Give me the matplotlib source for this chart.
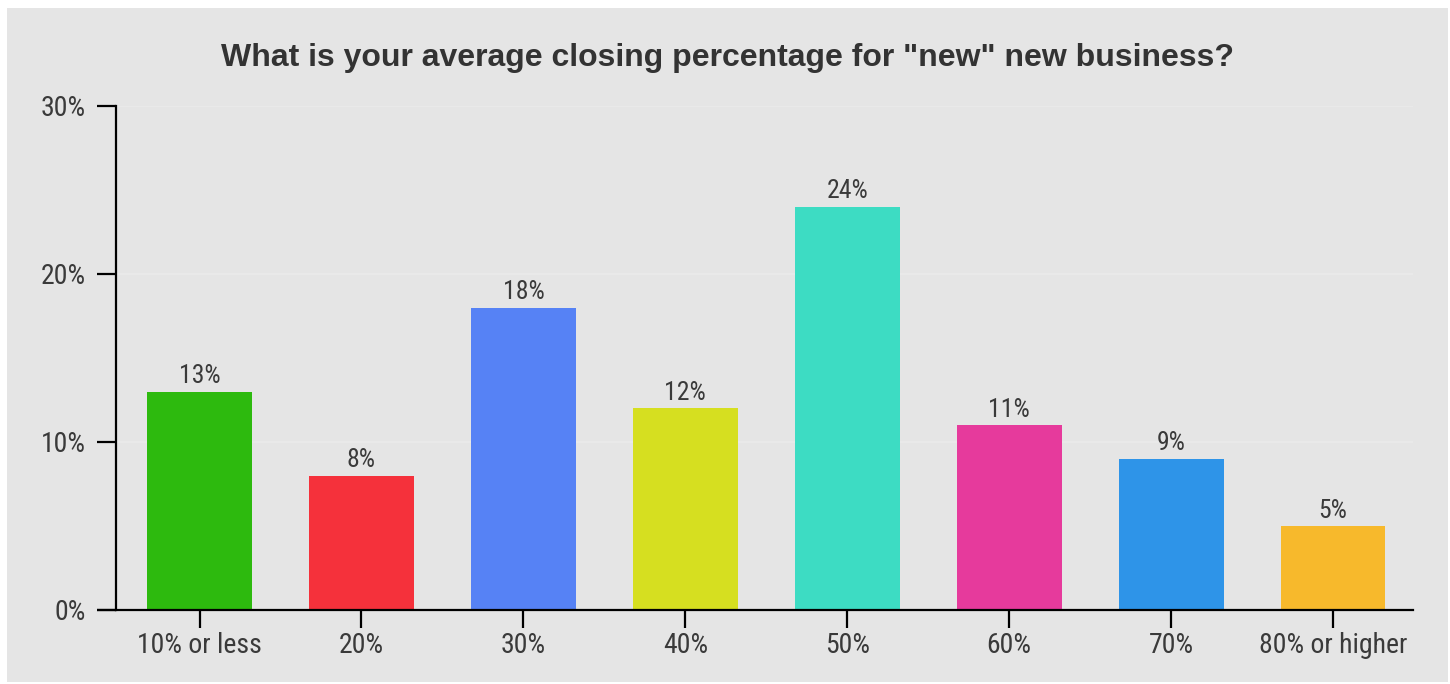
import matplotlib
matplotlib.use("Agg")
import matplotlib.pyplot as plt
from matplotlib.patches import Rectangle
from matplotlib.ticker import FuncFormatter, FixedLocator

categories = ["10% or less", "20%", "30%", "40%", "50%", "60%", "70%", "80% or higher"]
values = [13, 8, 18, 12, 24, 11, 9, 5]
colors = ["#2dba0e", "#f5313b", "#5682f5", "#d6df20", "#3ddcc3", "#e63a9c", "#2e94e8", "#f7b92c"]
y_ticks = [0, 10, 20, 30]
title = 'What is your average closing percentage for "new" new business?'

label_font = ["Roboto Condensed", "Liberation Sans Narrow", "Roboto", "DejaVu Sans"]
title_font = ["Liberation Sans", "Arial", "DejaVu Sans"]

W, H = 1450, 684
fig = plt.figure(figsize=(W / 100, H / 100), dpi=100, facecolor="white")

# grey panel behind the chart
fig.patches.append(Rectangle((7 / W, 1 - 682 / H), (1448 - 7) / W, (682 - 8) / H,
                             transform=fig.transFigure, facecolor="#e5e5e5",
                             edgecolor="none", zorder=-5))

ax = fig.add_axes([116 / W, 1 - 610 / H, (1413 - 116) / W, (610 - 106) / H])
ax.set_facecolor("none")
ax.set_zorder(2)

x = list(range(len(categories)))
bars = ax.bar(x, values, width=0.648, color=colors, edgecolor="none", zorder=3)

for xi, v in zip(x, values):
    ax.annotate(f"{v}%", (xi, v), xytext=(0, 2.5), textcoords="offset points",
                ha="center", va="bottom", fontsize=18.5, color="#3a3a3a",
                family=label_font)

ax.set_xlim(-0.516, 7.494)
ax.set_ylim(0, 30)
ax.yaxis.set_major_locator(FixedLocator(y_ticks))
ax.yaxis.set_major_formatter(FuncFormatter(lambda v, p: f"{v:.0f}%"))
ax.set_xticks(x)
ax.set_xticklabels(categories)

for yv in y_ticks[1:]:
    ax.axhline(yv, color="#ebebeb", linewidth=1.2, zorder=1)

for side in ("top", "right"):
    ax.spines[side].set_visible(False)
for side in ("left", "bottom"):
    ax.spines[side].set_linewidth(1.6)
    ax.spines[side].set_color("black")
    ax.spines[side].set_zorder(4)

ax.tick_params(axis="y", length=14, width=1.6, pad=8, labelsize=20, labelcolor="#3a3a3a")
ax.tick_params(axis="x", length=13, width=1.6, pad=3, labelsize=20, labelcolor="#3a3a3a")
for lbl in ax.get_xticklabels() + ax.get_yticklabels():
    lbl.set_family(label_font)

# extend the baseline left to meet the 0% tick
ax.plot([-0.516 - 19 / 161.9, -0.516], [0, 0], color="black", linewidth=1.6,
        clip_on=False, zorder=4, solid_capstyle="butt")

fig.text(727 / W, 1 - 58 / H, title, ha="center", va="center", fontsize=23,
         fontweight="bold", color="#333333", family=title_font)

fig.savefig("out.png", dpi=100, facecolor="white")
